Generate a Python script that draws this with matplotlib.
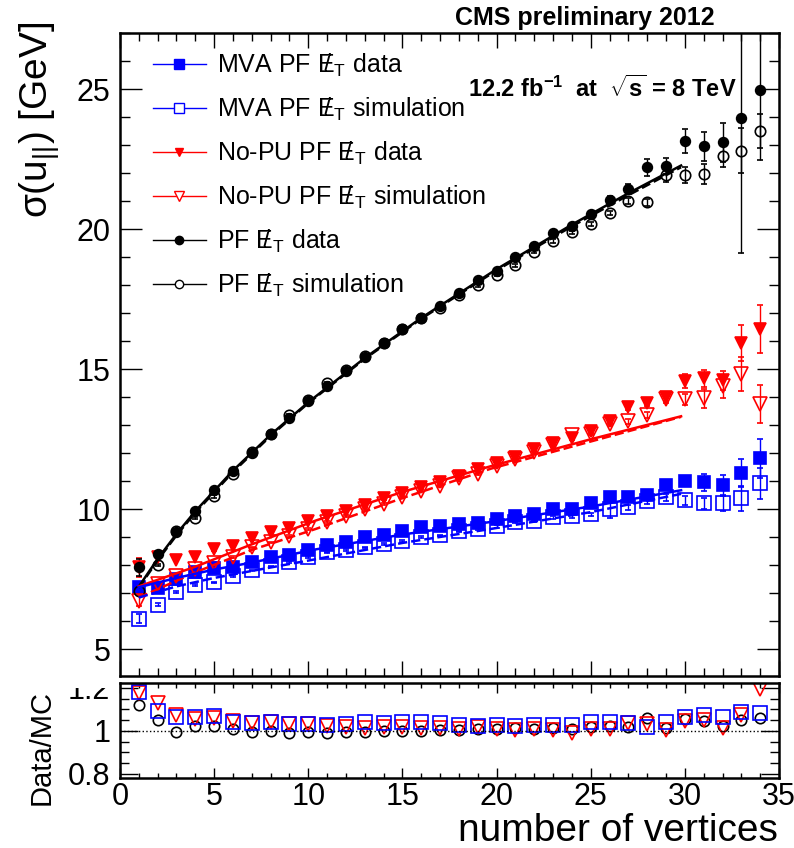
"""
Resolution of the hadronic recoil parallel component vs. number of primary vertices,
for PF, No-PU PF and MVA PF missing-ET (data vs. simulation), with Data/MC ratio panel.
"""
import matplotlib
matplotlib.use("Agg")
import matplotlib.pyplot as plt
import numpy as np
from matplotlib.lines import Line2D
from matplotlib.patches import Rectangle
from matplotlib.ticker import MultipleLocator, FuncFormatter

plt.rcParams["font.family"] = ["Liberation Sans", "DejaVu Sans"]
plt.rcParams["mathtext.fontset"] = "custom"
plt.rcParams["mathtext.rm"] = "Liberation Sans"
plt.rcParams["mathtext.it"] = "Liberation Sans:italic"
plt.rcParams["mathtext.bf"] = "Liberation Sans:bold"

# number of reconstructed vertices
nvtx = np.arange(1, 35)

# PF MET
pf_data = [7.93, 8.40, 9.20, 9.94, 10.68, 11.36, 12.00, 12.68, 13.25, 13.86, 14.39, 14.93,
           15.43, 15.93, 16.43, 16.82, 17.25, 17.71, 18.18, 18.50, 19.00, 19.39, 19.86, 20.11,
           20.54, 21.04, 21.43, 22.20, 22.25, 23.14, 22.96, 23.10, 23.96, 24.96]
pf_data_err = [0.30, 0.06, 0.05, 0.05, 0.05, 0.05, 0.05, 0.05, 0.05, 0.05, 0.05, 0.05,
               0.05, 0.05, 0.05, 0.05, 0.05, 0.05, 0.06, 0.06, 0.07, 0.07, 0.08, 0.09,
               0.10, 0.14, 0.18, 0.30, 0.30, 0.42, 0.52, 0.70, 4.80, 2.50]
pf_mc = [7.07, 8.00, 9.23, 9.70, 10.46, 11.27, 12.04, 12.68, 13.35, 13.90, 14.50, 14.97,
         15.48, 15.93, 16.45, 16.82, 17.20, 17.64, 18.00, 18.36, 18.71, 19.20, 19.57, 19.89,
         20.18, 20.57, 21.00, 20.96, 21.93, 21.93, 21.96, 22.60, 22.80, 23.50]
pf_mc_err = [0.05, 0.04, 0.04, 0.04, 0.04, 0.04, 0.04, 0.04, 0.04, 0.04, 0.04, 0.04,
             0.04, 0.04, 0.04, 0.04, 0.04, 0.04, 0.05, 0.05, 0.05, 0.05, 0.06, 0.06,
             0.07, 0.08, 0.10, 0.12, 0.25, 0.30, 0.35, 0.40, 0.80, 0.60]

# No-PU PF MET
nopu_data = [7.93, 8.30, 8.20, 8.30, 8.57, 8.68, 8.96, 9.18, 9.32, 9.57, 9.75, 9.93,
             10.14, 10.39, 10.60, 10.78, 10.96, 11.18, 11.43, 11.64, 11.86, 12.14, 12.36, 12.54,
             12.79, 13.14, 13.64, 13.79, 14.00, 14.57, 14.68, 14.60, 15.93, 16.43]
nopu_data_err = [0.35, 0.05, 0.04, 0.04, 0.04, 0.04, 0.04, 0.04, 0.04, 0.04, 0.04, 0.04,
                 0.04, 0.04, 0.04, 0.04, 0.04, 0.04, 0.05, 0.05, 0.05, 0.05, 0.06, 0.06,
                 0.07, 0.08, 0.10, 0.12, 0.15, 0.25, 0.30, 0.35, 0.65, 0.85]
nopu_mc = [6.74, 7.35, 7.63, 7.88, 8.10, 8.30, 8.64, 8.82, 9.04, 9.29, 9.54, 9.75,
           10.00, 10.18, 10.43, 10.64, 10.82, 11.10, 11.25, 11.54, 11.79, 12.04, 12.29, 12.64,
           12.70, 13.04, 13.14, 13.36, 13.93, 13.93, 13.96, 14.39, 14.82, 13.75]
nopu_mc_err = [0.20, 0.04, 0.03, 0.03, 0.03, 0.03, 0.03, 0.03, 0.03, 0.03, 0.03, 0.03,
               0.03, 0.03, 0.03, 0.03, 0.03, 0.03, 0.04, 0.04, 0.04, 0.04, 0.05, 0.05,
               0.06, 0.07, 0.08, 0.10, 0.12, 0.20, 0.35, 0.40, 0.60, 0.68]

# MVA PF MET
mva_data = [7.21, 7.20, 7.50, 7.75, 7.90, 7.93, 8.11, 8.29, 8.36, 8.56, 8.71, 8.82,
            9.00, 9.07, 9.21, 9.36, 9.40, 9.46, 9.50, 9.64, 9.75, 9.82, 10.00, 10.00,
            10.21, 10.43, 10.43, 10.50, 10.86, 11.00, 10.96, 10.86, 11.29, 11.82]
mva_data_err = [0.10, 0.04, 0.03, 0.03, 0.03, 0.03, 0.03, 0.03, 0.03, 0.03, 0.03, 0.03,
                0.03, 0.03, 0.03, 0.03, 0.03, 0.03, 0.04, 0.04, 0.04, 0.04, 0.05, 0.05,
                0.06, 0.07, 0.08, 0.10, 0.12, 0.15, 0.30, 0.35, 0.50, 0.70]
mva_mc = [6.10, 6.60, 7.04, 7.29, 7.39, 7.61, 7.82, 7.96, 8.11, 8.29, 8.46, 8.54,
          8.64, 8.75, 8.86, 9.00, 9.07, 9.21, 9.29, 9.39, 9.54, 9.57, 9.71, 9.75,
          9.82, 10.00, 10.07, 10.29, 10.43, 10.32, 10.21, 10.21, 10.39, 10.93]
mva_mc_err = [0.15, 0.04, 0.03, 0.03, 0.03, 0.03, 0.03, 0.03, 0.03, 0.03, 0.03, 0.03,
              0.03, 0.03, 0.03, 0.03, 0.03, 0.03, 0.04, 0.04, 0.04, 0.04, 0.05, 0.05,
              0.06, 0.30, 0.08, 0.10, 0.12, 0.15, 0.20, 0.28, 0.45, 0.55]

# fitted resolution curves (solid = data, dashed = simulation)
pf_fit_x = [1, 2, 3, 4, 6, 8, 10, 13, 16, 20, 24, 27, 29.8]
pf_fit = [7.24, 8.23, 9.12, 9.93, 11.38, 12.66, 13.82, 15.40, 16.83, 18.57, 20.16, 21.28, 22.27]
pf_mc_fit = [7.20, 8.18, 9.07, 9.88, 11.33, 12.62, 13.79, 15.37, 16.80, 18.53, 20.10, 21.21, 22.21]
nopu_fit_x = [1, 4, 7, 10.4, 15, 19.7, 25, 29.8]
nopu_fit = [7.25, 7.95, 8.75, 9.60, 10.62, 11.54, 12.50, 13.32]
nopu_mc_fit = [6.85, 7.75, 8.55, 9.30, 10.40, 11.45, 12.42, 13.30]
mva_fit_x = [1, 3, 5, 7, 10.4, 15, 19.7, 25, 29.8]
mva_fit = [7.22, 7.55, 7.85, 8.10, 8.57, 9.10, 9.55, 10.10, 10.68]
mva_mc_fit = [6.85, 7.25, 7.55, 7.80, 8.22, 8.80, 9.30, 9.90, 10.55]

BLUE = "#0000ff"
RED = "#ff0000"
BLACK = "#000000"

ET = r"$\mathrm{E}\!\!\!/\,{}_\mathrm{T}$"

fig = plt.figure(figsize=(7.94, 8.48), dpi=100)
ax = fig.add_axes([0.1511, 0.2028, 0.830, 0.7583])
axr = fig.add_axes([0.1511, 0.0825, 0.830, 0.1121])

series = [
    # values, errors, colour, marker, filled, marker size
    (mva_data, mva_data_err, BLUE, "s", True, 8.5),
    (mva_mc, mva_mc_err, BLUE, "s", False, 10),
    (nopu_data, nopu_data_err, RED, "v", True, 8),
    (nopu_mc, nopu_mc_err, RED, "v", False, 9.5),
    (pf_data, pf_data_err, BLACK, "o", True, 7),
    (pf_mc, pf_mc_err, BLACK, "o", False, 7.5),
]
for vals, errs, col, mk, filled, ms in series:
    ax.errorbar(nvtx, vals, yerr=errs, fmt=mk, color=col, mec=col,
                mfc=col if filled else "none", ms=ms, mew=1.2,
                elinewidth=1, capsize=2.5, capthick=1, zorder=2)

fits = [
    (pf_fit_x, pf_fit, BLACK, "-"), (pf_fit_x, pf_mc_fit, BLACK, "--"),
    (nopu_fit_x, nopu_fit, RED, "-"), (nopu_fit_x, nopu_mc_fit, RED, "--"),
    (mva_fit_x, mva_fit, BLUE, "-"), (mva_fit_x, mva_mc_fit, BLUE, "--"),
]
for fx, fy, col, ls in fits:
    ax.plot(fx, fy, color=col, ls=ls, lw=1.8, zorder=3)

ax.set_xlim(0, 35)
ax.set_ylim(4.05, 27.0)

# Data/MC ratios
ratios = [
    (np.array(pf_data) / np.array(pf_mc), BLACK, "o", 7.5),
    (np.array(nopu_data) / np.array(nopu_mc), RED, "v", 9.5),
    (np.array(mva_data) / np.array(mva_mc), BLUE, "s", 10),
]
for r, col, mk, ms in ratios:
    axr.plot(nvtx, r, ls="none", marker=mk, mec=col, mfc="none", ms=ms, mew=1.2)
axr.axhline(1.0, color="black", ls=":", lw=1)
axr.set_xlim(0, 35)
axr.set_ylim(0.781, 1.223)

for a in (ax, axr):
    for sp in a.spines.values():
        sp.set_linewidth(1.8)
    a.xaxis.set_major_locator(MultipleLocator(5))
    a.xaxis.set_minor_locator(MultipleLocator(1))
    a.tick_params(which="both", direction="in", top=True, right=True, width=1,
                  labelsize=22)

ax.yaxis.set_major_locator(MultipleLocator(5))
ax.yaxis.set_minor_locator(MultipleLocator(1))
ax.tick_params(axis="x", which="major", length=11, labelbottom=False)
ax.tick_params(axis="x", which="minor", length=5.5)
ax.tick_params(axis="y", which="major", length=16, pad=7)
ax.tick_params(axis="y", which="minor", length=7.5)

axr.yaxis.set_major_locator(MultipleLocator(0.2))
axr.yaxis.set_minor_locator(MultipleLocator(0.05))
axr.yaxis.set_major_formatter(FuncFormatter(lambda v, _: f"{v:g}"))
axr.tick_params(axis="x", which="major", length=7, pad=3)
axr.tick_params(axis="x", which="minor", length=3.5)
axr.tick_params(axis="y", which="major", length=13, pad=7)
axr.tick_params(axis="y", which="minor", length=6.5)

# the upper pad hides the top of the ratio axis labels
fig.add_artist(Rectangle((0, 1 - 688 / 848), 0.145, 14 / 848, transform=fig.transFigure,
                         facecolor="white", edgecolor="none", zorder=5))

legend_handles = [
    Line2D([], [], color=BLUE, lw=1, marker="s", ms=7, mfc=BLUE, mec=BLUE),
    Line2D([], [], color=BLUE, lw=1, marker="s", ms=7, mfc="white", mec=BLUE),
    Line2D([], [], color=RED, lw=1, marker="v", ms=6, mfc=RED, mec=RED),
    Line2D([], [], color=RED, lw=1, marker="v", ms=7, mfc="white", mec=RED),
    Line2D([], [], color=BLACK, lw=1, marker="o", ms=6, mfc=BLACK, mec=BLACK),
    Line2D([], [], color=BLACK, lw=1, marker="o", ms=6, mfc="white", mec=BLACK),
]
legend_labels = [
    f"MVA PF {ET} data",
    f"MVA PF {ET} simulation",
    f"No-PU PF {ET} data",
    f"No-PU PF {ET} simulation",
    f"PF {ET} data",
    f"PF {ET} simulation",
]
ax.legend(legend_handles, legend_labels, loc="upper left",
          bbox_to_anchor=(153 / 794, 1 - 52 / 848), bbox_transform=fig.transFigure,
          frameon=False, fontsize=18, borderpad=0, borderaxespad=0,
          handlelength=2.1, handletextpad=0.45, labelspacing=0.67)

fig.text(0.573, 0.979, "CMS preliminary 2012", fontsize=18, fontweight="bold",
         ha="left", va="center")
fig.text(0.589, 0.896, r"12.2 fb$^{\mathbf{-1}}$  at  $\sqrt{\mathbf{s}}$ = 8 TeV",
         fontsize=17, fontweight="bold", ha="left", va="center")
fig.text(0.050, 0.974, r"σ(u$_{||}$) [GeV]", fontsize=28, rotation=90,
         ha="center", va="top")
fig.text(0.052, 0.118, "Data/MC", fontsize=21, rotation=90, ha="center", va="center")
fig.text(0.98, 0.008, "number of vertices", fontsize=28, ha="right", va="baseline")

fig.savefig("out.png", dpi=100)
